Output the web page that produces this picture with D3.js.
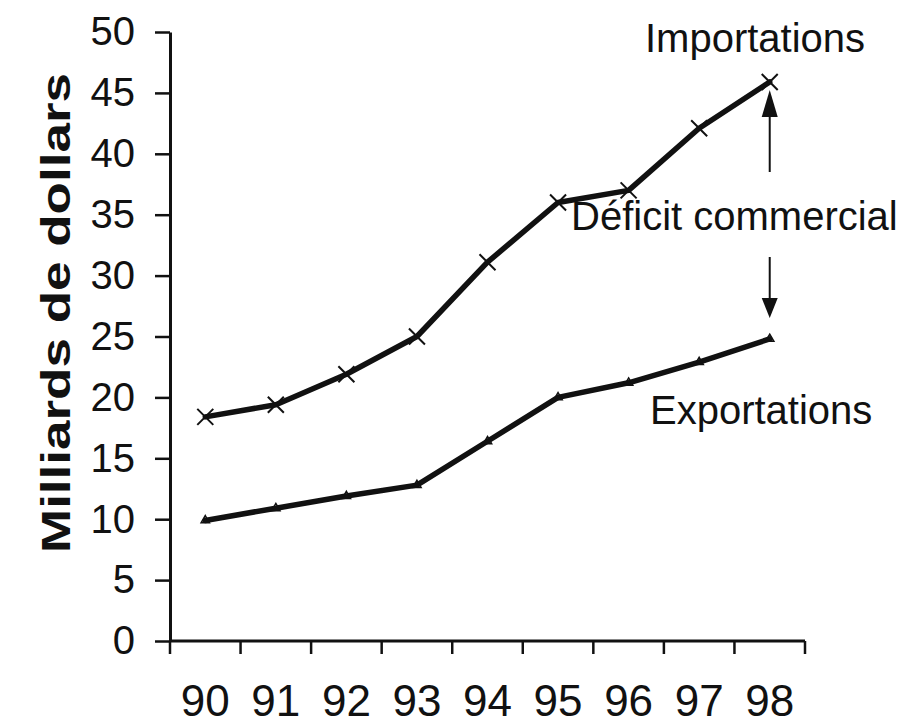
<!DOCTYPE html>
<html>
<head>
<meta charset="utf-8">
<script src="https://cdn.jsdelivr.net/npm/d3@7"></script>
<style>
  body { margin: 0; background: #fff; }
  text { font-family: "Liberation Sans", Arial, sans-serif; fill: #111; }
</style>
</head>
<body>
<div id="chart"></div>
<script>
// data (billions of dollars)
var years = ["90", "91", "92", "93", "94", "95", "96", "97", "98"];
var importations = [18.4, 19.4, 21.9, 25.0, 31.1, 36.0, 37.0, 42.1, 45.9];
var exportations = [9.9, 10.9, 11.9, 12.8, 16.4, 20.0, 21.2, 22.9, 24.8];
var yTicks = [0, 5, 10, 15, 20, 25, 30, 35, 40, 45, 50];

var width = 911, height = 726;

var svg = d3.select("#chart").append("svg")
    .attr("width", width)
    .attr("height", height);

// set the ranges
var x = d3.scaleBand()
    .domain(years)
    .range([170, 805])
    .padding(0);
var y = d3.scaleLinear()
    .domain([0, 50])
    .range([641, 32]);

var cx = function(d) { return x(d) + x.bandwidth() / 2; };

// y axis
var yAxis = svg.append("g")
    .attr("transform", "translate(170,0)")
    .call(d3.axisLeft(y).tickValues(yTicks).tickSize(15).tickSizeOuter(0).tickPadding(20));
yAxis.select(".domain").attr("stroke", "#111").attr("stroke-width", 3);
yAxis.selectAll(".tick line").attr("stroke", "#111").attr("stroke-width", 2.5);
yAxis.selectAll(".tick text")
    .style("font-size", "40px")
    .attr("fill", "#111");

// x axis line + boundary ticks
svg.append("line")
    .attr("x1", 170).attr("x2", 805)
    .attr("y1", y(0)).attr("y2", y(0))
    .attr("stroke", "#111").attr("stroke-width", 3);

var bounds = years.map(function(d) { return x(d); }).concat([x.range()[1]]);
svg.selectAll(".xtick")
    .data(bounds)
    .enter().append("line")
    .attr("class", "xtick")
    .attr("x1", function(d) { return d; })
    .attr("x2", function(d) { return d; })
    .attr("y1", y(0))
    .attr("y2", y(0) + 13)
    .attr("stroke", "#111").attr("stroke-width", 2.5);

svg.selectAll(".xlabel")
    .data(years)
    .enter().append("text")
    .attr("class", "xlabel")
    .attr("x", cx)
    .attr("y", 716)
    .attr("text-anchor", "middle")
    .style("font-size", "44px")
    .text(function(d) { return d; });

// y axis title
svg.append("text")
    .attr("transform", "translate(70,313) rotate(-90)")
    .attr("text-anchor", "middle")
    .style("font-size", "41px")
    .style("font-weight", "bold")
    .attr("textLength", 480)
    .attr("lengthAdjust", "spacingAndGlyphs")
    .text("Milliards de dollars");

// lines
var line = d3.line()
    .x(function(d, i) { return cx(years[i]); })
    .y(function(d) { return y(d); });

svg.append("path")
    .datum(importations)
    .attr("fill", "none")
    .attr("stroke", "#111")
    .attr("stroke-width", 5.5)
    .attr("stroke-linejoin", "round")
    .attr("stroke-linecap", "round")
    .attr("d", line);

svg.append("path")
    .datum(exportations)
    .attr("fill", "none")
    .attr("stroke", "#111")
    .attr("stroke-width", 5.5)
    .attr("stroke-linejoin", "round")
    .attr("stroke-linecap", "round")
    .attr("d", line);

// x markers on importations
var s = 8;
svg.selectAll(".xmark")
    .data(importations)
    .enter().append("path")
    .attr("class", "xmark")
    .attr("transform", function(d, i) { return "translate(" + cx(years[i]) + "," + y(d) + ")"; })
    .attr("d", "M" + (-s) + "," + (-s) + "L" + s + "," + s + "M" + (-s) + "," + s + "L" + s + "," + (-s))
    .attr("stroke", "#111")
    .attr("stroke-width", 2);

// small triangle markers on exportations
svg.selectAll(".tmark")
    .data(exportations)
    .enter().append("path")
    .attr("class", "tmark")
    .attr("transform", function(d, i) { return "translate(" + cx(years[i]) + "," + y(d) + ")"; })
    .attr("d", d3.symbol().type(d3.symbolTriangle).size(30))
    .attr("fill", "none")
    .attr("stroke", "#111")
    .attr("stroke-width", 1.5);

// annotations
svg.append("text")
    .attr("x", 645).attr("y", 52)
    .style("font-size", "40px")
    .text("Importations");

svg.append("text")
    .attr("x", 571).attr("y", 230)
    .style("font-size", "40px")
    .text("Déficit commercial");

svg.append("text")
    .attr("x", 650).attr("y", 424)
    .style("font-size", "40px")
    .text("Exportations");

// arrows for the deficit
var ax = cx("98");
svg.append("line")
    .attr("x1", ax).attr("x2", ax)
    .attr("y1", 172).attr("y2", 115)
    .attr("stroke", "#111").attr("stroke-width", 2);
svg.append("path")
    .attr("d", "M" + ax + ",90L" + (ax - 8) + ",117L" + (ax + 8) + ",117Z")
    .attr("fill", "#111");

svg.append("line")
    .attr("x1", ax).attr("x2", ax)
    .attr("y1", 257).attr("y2", 300)
    .attr("stroke", "#111").attr("stroke-width", 2);
svg.append("path")
    .attr("d", "M" + ax + ",318L" + (ax - 8) + ",298L" + (ax + 8) + ",298Z")
    .attr("fill", "#111");
</script>
</body>
</html>
